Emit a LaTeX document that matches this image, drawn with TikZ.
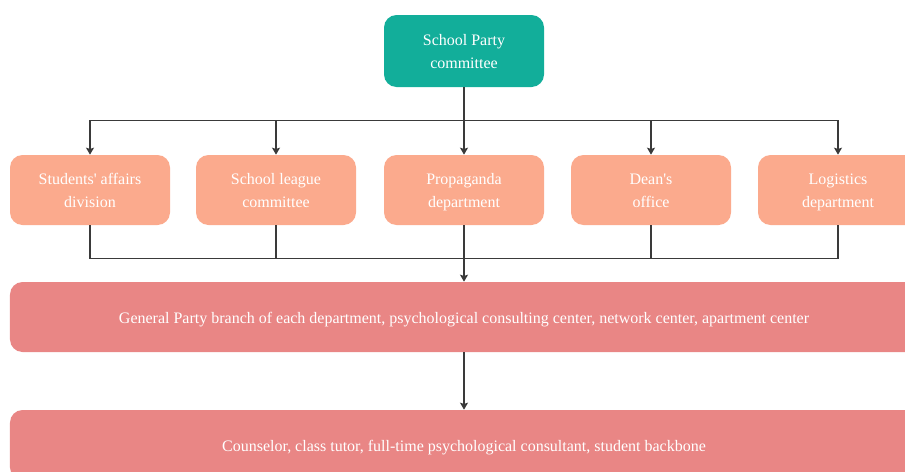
\documentclass[tikz,border=0pt]{standalone}
\usepackage{fontspec}
\setmainfont{Liberation Serif}
\usepackage{xcolor}
\usepackage{tikz}
\usetikzlibrary{arrows.meta, positioning}
\definecolor{partyteal}{HTML}{12AE9A}
\definecolor{deptpeach}{HTML}{FBAA8D}
\definecolor{unitrose}{HTML}{E98685}
\definecolor{linegray}{HTML}{3A3A3A}
\tikzstyle{arrow}     = [line width=0.7pt, draw=linegray, ->, >={Stealth[length=4pt, width=4.6pt, inset=0.8pt]}]
\tikzstyle{line}      = [line width=0.7pt, draw=linegray]
\tikzstyle{block}     = [rectangle, text=white, rounded corners=0.25cm, inner sep=0pt,
                         minimum width=3.2cm, minimum height=1.4cm,
                         font=\fontsize{9.1}{13}\selectfont]
\tikzset{every node/.style={align=center}}
% text set a little lower in the box
\newcommand{\twolines}[2]{\rule{0pt}{10.9pt}#1\\#2\strut}
\newcommand{\oneline}[1]{\rule{0pt}{9pt}#1}

\begin{document}
\begin{tikzpicture}
    \clip (0, 0) rectangle (18.1, -9.44);
    \node (top)  at (9.28, -1.02) [block, fill=partyteal, minimum height=1.44cm]
          {\twolines{School Party}{committee}};

    \node (sad)  at (1.8,   -3.8) [block, fill=deptpeach] {\twolines{Students\textquotesingle{} affairs}{division}};
    \node (slc)  at (5.52,  -3.8) [block, fill=deptpeach] {\twolines{School league}{committee}};
    \node (prop) at (9.28,  -3.8) [block, fill=deptpeach] {\twolines{Propaganda}{department}};
    \node (dean) at (13.02, -3.8) [block, fill=deptpeach] {\twolines{Dean\textquotesingle s}{office}};
    \node (log)  at (16.76, -3.8) [block, fill=deptpeach] {\twolines{Logistics}{department}};

    \node (gpb)  at (9.28, -6.34) [block, fill=unitrose, minimum width=18.16cm]
          {\oneline{General Party branch of each department, psychological consulting center, network center, apartment center}};
    \node (cou)  at (9.28, -8.9)  [block, fill=unitrose, minimum width=18.16cm]
          {\oneline{Counselor, class tutor, full-time psychological consultant, student backbone}};

    % party committee down to the departments
    \foreach \n in {sad, slc, prop, dean, log}
        \draw [arrow] (top.south) -- ++(0, -0.66) -| (\n.north);

    % departments gathered into one bus
    \foreach \n in {sad, slc, dean, log}
        \draw [line] (\n.south) -- ++(0, -0.66) -| (prop.south);
    \draw [arrow] (prop.south) -- (gpb.north);
    \draw [arrow] (gpb)        -- (cou);
\end{tikzpicture}
\end{document}
